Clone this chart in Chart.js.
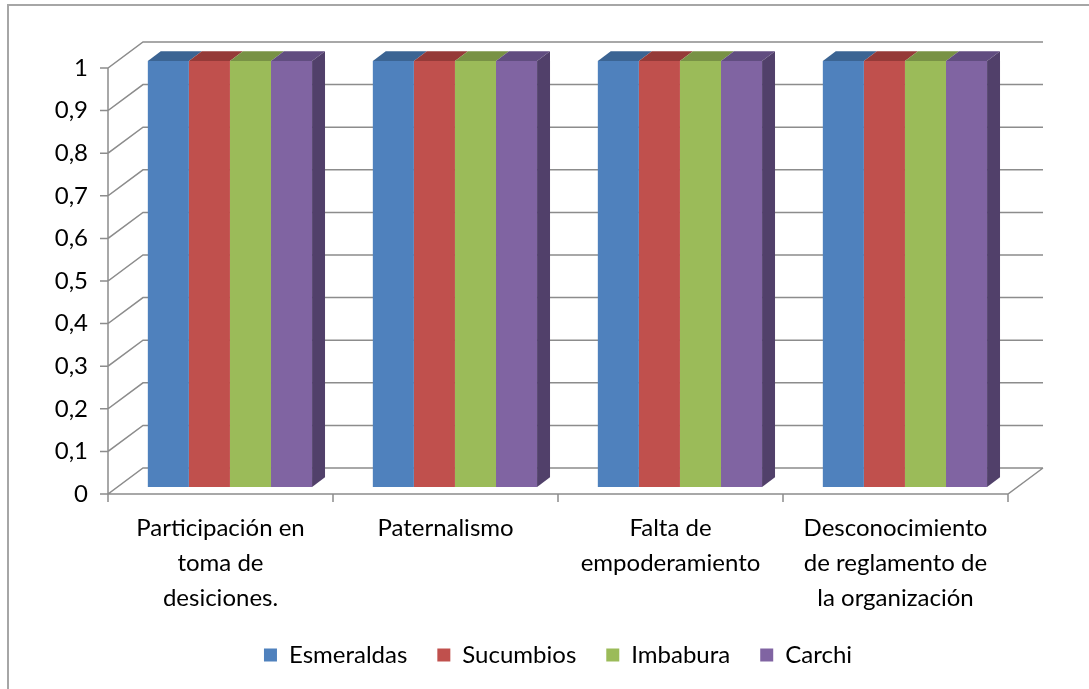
<!DOCTYPE html>
<html>
<head>
<meta charset="utf-8">
<script src="https://cdn.jsdelivr.net/npm/chart.js@4/dist/chart.umd.min.js"></script>
<style>
  html, body { margin: 0; padding: 0; background: #fff; overflow: hidden; }
  #wrap { position: relative; width: 1089px; height: 689px; }
  #frame { position: absolute; left: 7px; top: 4px; width: 1200px; height: 800px;
           border-left: 2px solid #a6a6a6; border-top: 2px solid #a6a6a6; pointer-events: none; }
  canvas { position: absolute; left: 0; top: 0; }
</style>
</head>
<body>
<div id="wrap">
  <div id="frame"></div>
  <canvas id="chart" width="1089" height="689"></canvas>
</div>
<script>
// chart values
const categories = [
  ["Participación en", "toma de", "desiciones."],
  ["Paternalismo"],
  ["Falta de", "empoderamiento"],
  ["Desconocimiento", "de reglamento de", "la organización"]
];
const esmeraldas = [1, 1, 1, 1];
const sucumbios = [1, 1, 1, 1];
const imbabura = [1, 1, 1, 1];
const carchi = [1, 1, 1, 1];

const frontColors = ["#4F81BD", "#C0504D", "#9BBB59", "#8064A2"];
const topColors = ["#3B6493", "#953A38", "#789245", "#614D80"];
const sideColor = "#51406A";
const GRID = "#8c8c8c";

// depth of the 3d box (back wall offset) and where the bars sit in it
const DEPTH = { x: 35, y: -26 };
const BAR_SHIFT = 0.27;
const BAR_DEPTH = 0.37;

const box3d = {
  id: "box3d",
  beforeDatasetsDraw(chart) {
    const { ctx, chartArea: a, scales: { x, y } } = chart;
    ctx.save();
    ctx.strokeStyle = GRID;
    ctx.lineWidth = 1.5;
    ctx.beginPath();
    y.ticks.forEach(t => {
      const py = y.getPixelForValue(t.value);
      ctx.moveTo(a.left - 8, py);
      ctx.lineTo(a.left, py);
      ctx.lineTo(a.left + DEPTH.x, py + DEPTH.y);
      ctx.lineTo(a.right + DEPTH.x, py + DEPTH.y);
    });
    // front axis + floor
    ctx.moveTo(a.left, a.top);
    ctx.lineTo(a.left, a.bottom);
    ctx.lineTo(a.right, a.bottom);
    ctx.lineTo(a.right + DEPTH.x, a.bottom + DEPTH.y);
    // category ticks
    for (let i = 0; i <= categories.length; i++) {
      const px = x.getPixelForValue(i - 0.5);
      ctx.moveTo(px, a.bottom);
      ctx.lineTo(px, a.bottom + 8);
    }
    ctx.stroke();
    ctx.restore();

    ctx.save();
    ctx.translate(DEPTH.x * BAR_SHIFT, DEPTH.y * BAR_SHIFT);
  },
  afterDatasetsDraw(chart) {
    const ctx = chart.ctx;
    const dx = DEPTH.x * BAR_DEPTH, dy = DEPTH.y * BAR_DEPTH;
    const last = chart.data.datasets.length - 1;
    chart.data.datasets.forEach((ds, di) => {
      chart.getDatasetMeta(di).data.forEach(bar => {
        const l = bar.x - bar.width / 2, r = bar.x + bar.width / 2;
        const t = bar.y, b = bar.base;
        ctx.fillStyle = topColors[di];
        ctx.beginPath();
        ctx.moveTo(l, t);
        ctx.lineTo(r, t);
        ctx.lineTo(r + dx, t + dy);
        ctx.lineTo(l + dx, t + dy);
        ctx.closePath();
        ctx.fill();
        if (di === last) {
          ctx.fillStyle = sideColor;
          ctx.beginPath();
          ctx.moveTo(r, t);
          ctx.lineTo(r + dx, t + dy);
          ctx.lineTo(r + dx, b + dy);
          ctx.lineTo(r, b);
          ctx.closePath();
          ctx.fill();
        }
      });
    });
    ctx.restore();
  }
};

const FONT = "Lato";

new Chart(document.getElementById("chart"), {
  type: "bar",
  data: {
    labels: categories,
    datasets: [
      { label: "Esmeraldas", data: esmeraldas, backgroundColor: frontColors[0] },
      { label: "Sucumbios", data: sucumbios, backgroundColor: frontColors[1] },
      { label: "Imbabura", data: imbabura, backgroundColor: frontColors[2] },
      { label: "Carchi", data: carchi, backgroundColor: frontColors[3] }
    ]
  },
  options: {
    responsive: false,
    animation: false,
    devicePixelRatio: 1,
    layout: { padding: { left: 0, top: 68, right: 81, bottom: 12 } },
    datasets: {
      bar: { categoryPercentage: 0.73, barPercentage: 1, borderWidth: 0, clip: false }
    },
    scales: {
      x: {
        grid: { display: false },
        border: { display: false },
        ticks: {
          color: "#000",
          font: { family: FONT, size: 24, lineHeight: 35 / 24 },
          padding: 9,
          maxRotation: 0,
          autoSkip: false
        },
        afterFit(scale) { scale.height = 119; }
      },
      y: {
        min: 0,
        max: 1,
        grid: { display: false },
        border: { display: false },
        ticks: {
          stepSize: 0.1,
          color: "#000",
          padding: 12,
          font: { family: FONT, size: 24 },
          callback: v => String(Number(v.toFixed(1))).replace(".", ",")
        },
        afterFit(scale) { scale.width = 108; }
      }
    },
    plugins: {
      tooltip: { enabled: false },
      legend: {
        position: "bottom",
        fullSize: false,
        labels: {
          color: "#000",
          font: { family: FONT, size: 24 },
          boxWidth: 13,
          boxHeight: 13,
          padding: 30
        }
      }
    }
  },
  plugins: [box3d]
});
</script>
</body>
</html>
